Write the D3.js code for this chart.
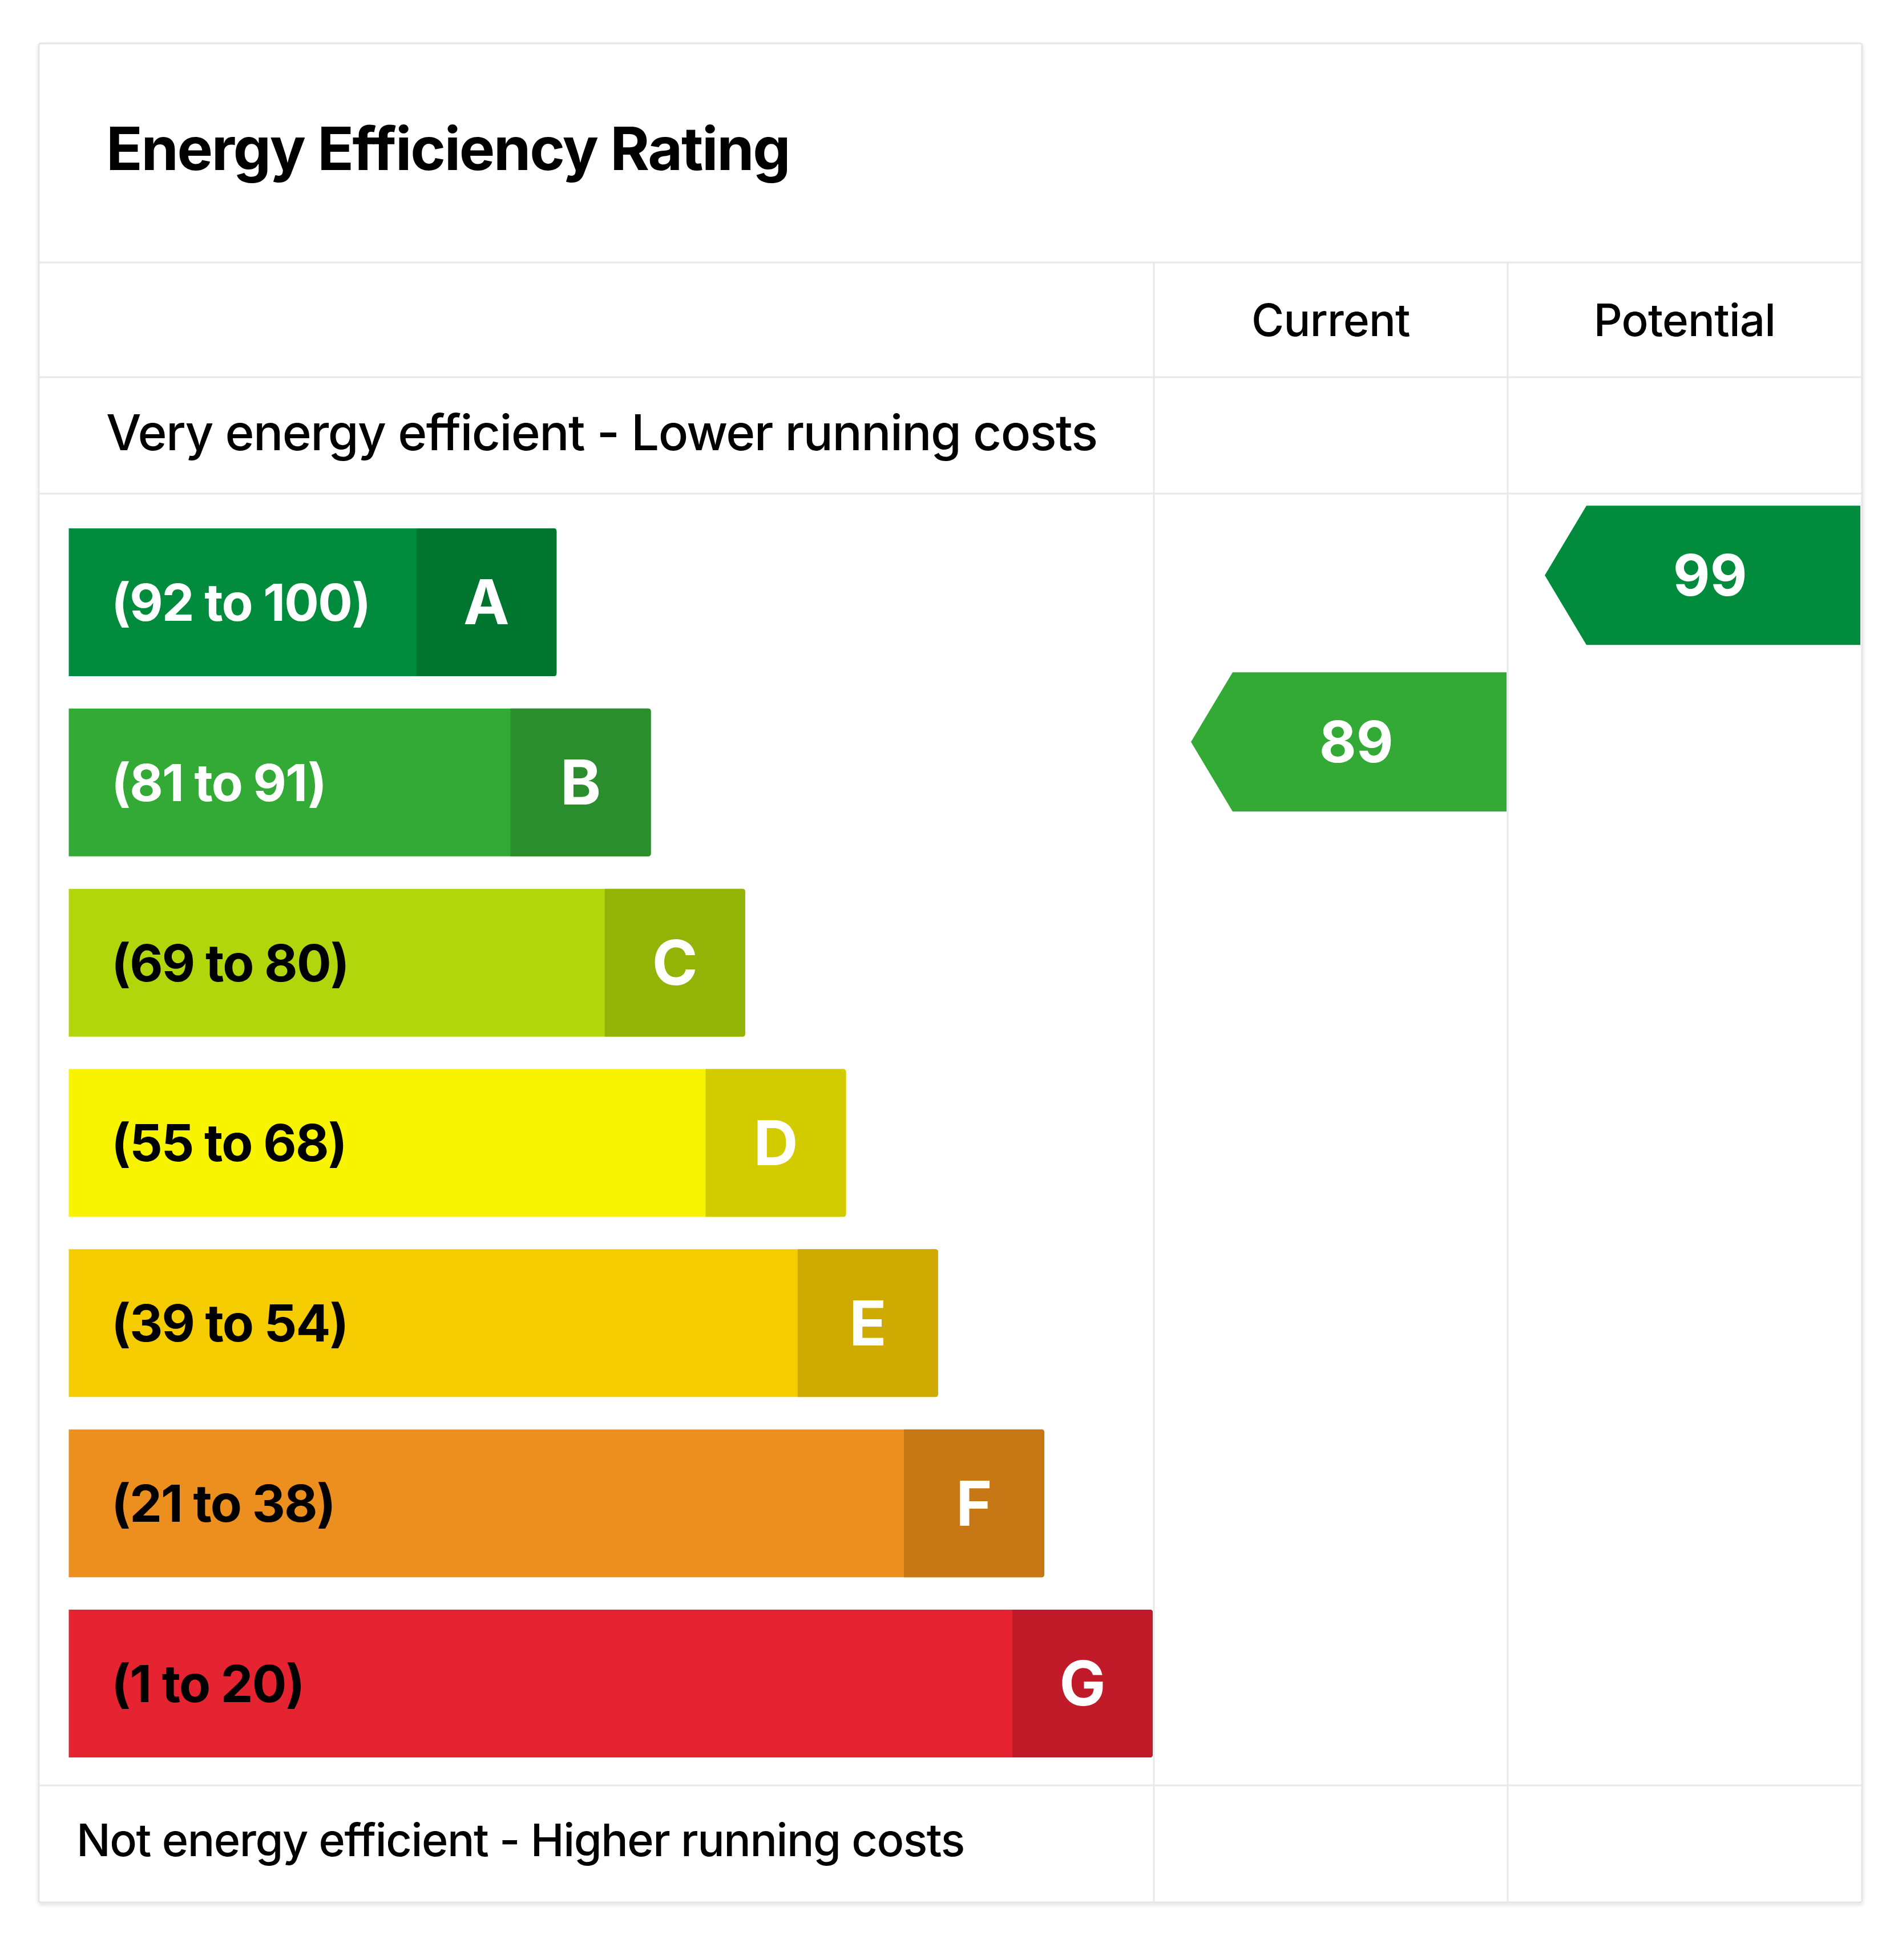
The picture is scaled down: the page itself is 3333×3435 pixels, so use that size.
<!DOCTYPE html>
<html lang="en">
<head>
<meta charset="utf-8">
<title>Energy Efficiency Rating</title>
<script src="https://cdn.jsdelivr.net/npm/d3@7"></script>
<style>
  html, body { margin: 0; padding: 0; background: #fff; }
  text { font-family: Inter, "Noto Sans", sans-serif; }
  .title { font-size: 105px; font-weight: 700; fill: #000; letter-spacing: -0.022em; }
  .colHead { font-size: 78px; font-weight: 500; fill: #000; letter-spacing: -0.01em; }
  .note { font-weight: 500; fill: #000; letter-spacing: -0.018em; }
  .range { font-size: 90px; font-weight: 700; letter-spacing: -0.02em; }
  .letter { font-size: 108px; font-weight: 700; fill: #fff; }
  .rating { font-size: 100px; font-weight: 700; fill: #fff; }
  .grid { stroke: #e6e8eb; stroke-width: 3; fill: none; }
</style>
</head>
<body>
<div id="chart"></div>
<script>
// ---- data ----
var bands = ["A", "B", "C", "D", "E", "F", "G"];
var ranges = ["(92 to 100)", "(81 to 91)", "(69 to 80)", "(55 to 68)", "(39 to 54)", "(21 to 38)", "(1 to 20)"];
var barLengths = [45, 53.7, 62.4, 71.7, 80.2, 90, 100];   // relative bar length, G = 100
var columns = ["Current", "Potential"];
var ratings = [89, 99];
var ratingBands = ["B", "A"];

// palette per band: main, dark letter box, range text colour
var mainColor = ["#008c3c", "#33a936", "#b1d60b", "#f8f400", "#f4cc00", "#ec8f1f", "#e62331"];
var darkColor = ["#00752f", "#2a8d2e", "#93b307", "#d2cb00", "#cfaa00", "#c77815", "#c11b29"];
var textColor = ["#fff", "#fff", "#000", "#000", "#000", "#000", "#000"];

var W = 3333, H = 3435;

// card layout
var card = {left: 68, right: 3263, top: 76, bottom: 3334};
var rowLines = [460, 661, 865, 3129];

var svg = d3.select("#chart").append("svg")
  .attr("width", W).attr("height", H);

var defs = svg.append("defs");
var f = defs.append("filter").attr("id", "shadow")
  .attr("x", "-5%").attr("y", "-5%").attr("width", "110%").attr("height", "110%");
f.append("feDropShadow").attr("dx", 0).attr("dy", 3).attr("stdDeviation", 3)
  .attr("flood-color", "#000").attr("flood-opacity", 0.12);

svg.append("rect")
  .attr("x", card.left).attr("y", card.top)
  .attr("width", card.right - card.left).attr("height", card.bottom - card.top)
  .attr("rx", 4)
  .attr("fill", "#fff")
  .attr("stroke", "#e3e6e9").attr("stroke-width", 3)
  .attr("filter", "url(#shadow)");

// scales
var x = d3.scaleLinear().domain([0, 100]).range([120.5, 2020]);
var y = d3.scaleBand().domain(bands).range([926, 3080]).paddingInner(0.18).paddingOuter(0);
var col = d3.scaleBand().domain(columns).range([2022, 3262]);
// arrow vertical position from the rating value
var yRating = d3.scaleLinear().domain([100, 0]).range([979, 3899]);

// grid lines
svg.selectAll("line.row").data(rowLines).enter().append("line")
  .attr("class", "grid row")
  .attr("x1", card.left).attr("x2", card.right)
  .attr("y1", function(d) { return d; }).attr("y2", function(d) { return d; });

svg.selectAll("line.col").data(columns).enter().append("line")
  .attr("class", "grid col")
  .attr("x1", function(d) { return col(d); }).attr("x2", function(d) { return col(d); })
  .attr("y1", rowLines[0]).attr("y2", card.bottom);

// titles
svg.append("text").attr("class", "title")
  .attr("x", 186).attr("y", 298)
  .text("Energy Efficiency Rating");

svg.selectAll("text.colHead").data(columns).enter().append("text")
  .attr("class", "colHead")
  .attr("x", function(d) { return col(d) + col.bandwidth() / 2; })
  .attr("y", 589)
  .attr("text-anchor", "middle")
  .text(function(d) { return d; });

svg.append("text").attr("class", "note")
  .attr("x", 186).attr("y", 789).style("font-size", "87px")
  .text("Very energy efficient - Lower running costs");

svg.append("text").attr("class", "note")
  .attr("x", 134).attr("y", 3253).style("font-size", "79px")
  .text("Not energy efficient - Higher running costs");

// bars: square on the left, slightly rounded on the right
var boxW = 246, r = 5;
function barPath(x0, x1, y0, h) {
  return "M" + x0 + "," + y0 +
    "H" + (x1 - r) + "Q" + x1 + "," + y0 + " " + x1 + "," + (y0 + r) +
    "V" + (y0 + h - r) + "Q" + x1 + "," + (y0 + h) + " " + (x1 - r) + "," + (y0 + h) +
    "H" + x0 + "Z";
}

var bar = svg.selectAll("g.band").data(bands).enter().append("g")
  .attr("class", "band");

bar.append("path")
  .attr("d", function(d, i) { return barPath(x(0), x(barLengths[i]), y(d), y.bandwidth()); })
  .attr("fill", function(d, i) { return mainColor[i]; });

bar.append("path")
  .attr("d", function(d, i) { return barPath(x(barLengths[i]) - boxW, x(barLengths[i]), y(d), y.bandwidth()); })
  .attr("fill", function(d, i) { return darkColor[i]; });

bar.append("text").attr("class", "range")
  .attr("x", 195)
  .attr("y", function(d) { return y(d) + y.bandwidth() / 2; })
  .attr("dy", "0.36em")
  .attr("fill", function(d, i) { return textColor[i]; })
  .text(function(d, i) { return ranges[i]; });

bar.append("text").attr("class", "letter")
  .attr("x", function(d, i) { return x(barLengths[i]) - boxW / 2; })
  .attr("y", function(d) { return y(d) + y.bandwidth() / 2; })
  .attr("dy", "0.36em")
  .attr("text-anchor", "middle")
  .text(function(d) { return d; });

// rating arrows
var arrowH = 244, tipW = 73, inset = 65;
var arrow = svg.selectAll("g.arrow").data(columns).enter().append("g")
  .attr("class", "arrow");

arrow.append("path")
  .attr("d", function(d, i) {
    var cy = yRating(ratings[i]);
    var x0 = col(d) + inset, x1 = col(d) + col.bandwidth() - 2;
    return "M" + x0 + "," + cy +
      "L" + (x0 + tipW) + "," + (cy - arrowH / 2) +
      "H" + x1 + "V" + (cy + arrowH / 2) +
      "H" + (x0 + tipW) + "Z";
  })
  .attr("fill", function(d, i) { return mainColor[bands.indexOf(ratingBands[i])]; });

arrow.append("text").attr("class", "rating")
  .attr("x", function(d) { return (col(d) + inset + tipW / 2 + col(d) + col.bandwidth()) / 2 - 6; })
  .attr("y", function(d, i) { return yRating(ratings[i]); })
  .attr("dy", "0.36em")
  .attr("text-anchor", "middle")
  .text(function(d, i) { return ratings[i]; });
</script>
</body>
</html>
